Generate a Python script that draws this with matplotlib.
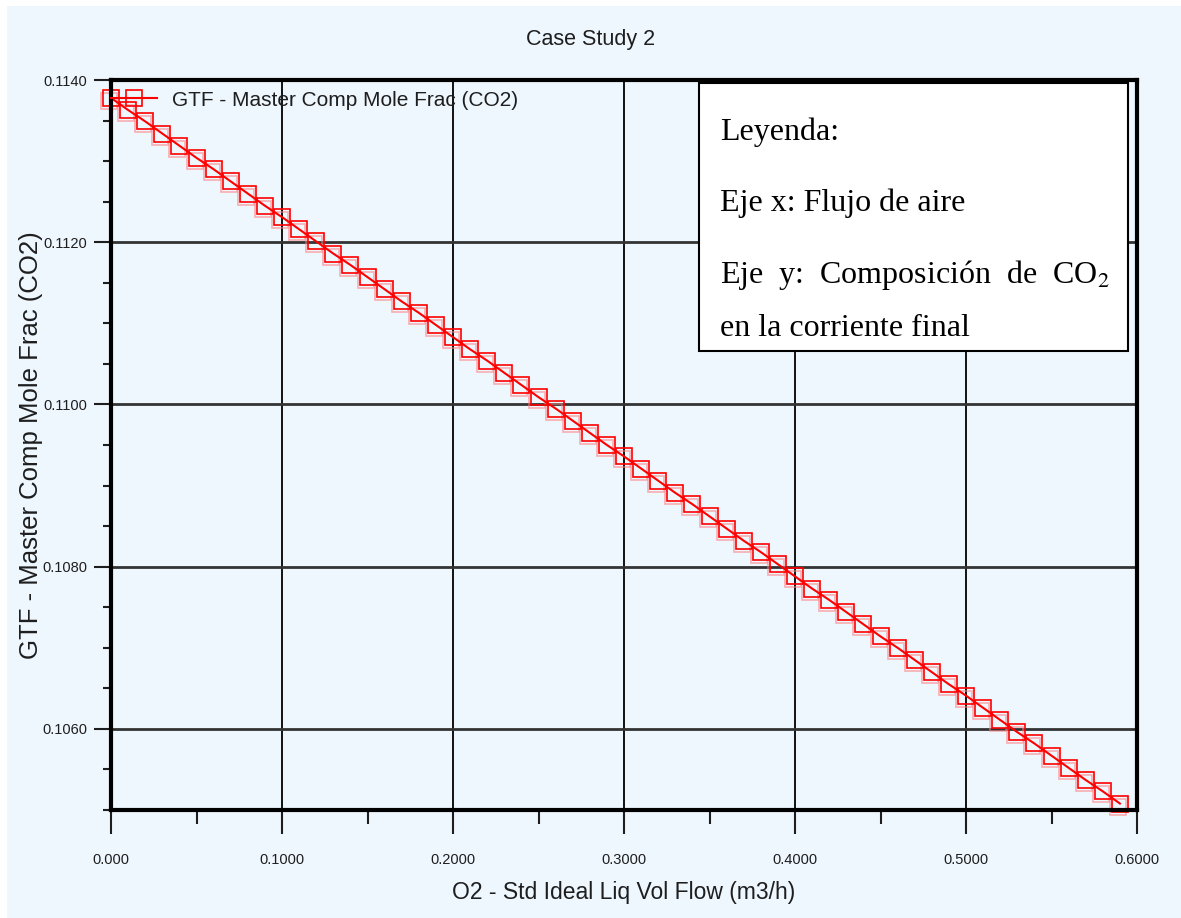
import matplotlib
matplotlib.use("Agg")
import matplotlib.pyplot as plt
import matplotlib.transforms as mtransforms
from matplotlib.patches import Rectangle
from matplotlib.ticker import MultipleLocator, FixedLocator

# O2 flow (m3/h) vs CO2 mole fraction in the final stream
flow = [0.00, 0.01, 0.02, 0.03, 0.04, 0.05, 0.06, 0.07, 0.08, 0.09,
        0.10, 0.11, 0.12, 0.13, 0.14, 0.15, 0.16, 0.17, 0.18, 0.19,
        0.20, 0.21, 0.22, 0.23, 0.24, 0.25, 0.26, 0.27, 0.28, 0.29,
        0.30, 0.31, 0.32, 0.33, 0.34, 0.35, 0.36, 0.37, 0.38, 0.39,
        0.40, 0.41, 0.42, 0.43, 0.44, 0.45, 0.46, 0.47, 0.48, 0.49,
        0.50, 0.51, 0.52, 0.53, 0.54, 0.55, 0.56, 0.57, 0.58, 0.59]
co2 = [0.11378, 0.11363, 0.11349, 0.11334, 0.11319, 0.11304, 0.11290, 0.11275, 0.11260, 0.11245,
       0.11231, 0.11216, 0.11201, 0.11186, 0.11172, 0.11157, 0.11142, 0.11127, 0.11113, 0.11098,
       0.11083, 0.11068, 0.11054, 0.11039, 0.11024, 0.11009, 0.10995, 0.10980, 0.10965, 0.10950,
       0.10936, 0.10921, 0.10906, 0.10891, 0.10877, 0.10862, 0.10847, 0.10832, 0.10818, 0.10803,
       0.10788, 0.10773, 0.10759, 0.10744, 0.10729, 0.10714, 0.10700, 0.10685, 0.10670, 0.10655,
       0.10641, 0.10626, 0.10611, 0.10596, 0.10582, 0.10567, 0.10552, 0.10537, 0.10523, 0.10508]

xticks = [0.0, 0.1, 0.2, 0.3, 0.4, 0.5, 0.6]
xlabels = ["0.000", "0.1000", "0.2000", "0.3000", "0.4000", "0.5000", "0.6000"]
yticks = [0.1060, 0.1080, 0.1100, 0.1120, 0.1140]
ylabels = ["0.1060", "0.1080", "0.1100", "0.1120", "0.1140"]

note_lines = ["Leyenda:", "Eje x: Flujo de aire",
              "Eje  y:  Composición  de  CO$_2$", "en la corriente final"]

sans = "Liberation Sans"
plt.rcParams["mathtext.fontset"] = "stix"

W, H = 1181, 918
bg = "#eef6fe"
ink = "#1e1e1e"


def fx(px):
    return px / W


def fy(py):
    return 1 - py / H


fig = plt.figure(figsize=(W / 100, H / 100), dpi=100, facecolor="white")
fig.patches.append(Rectangle((fx(7), 0), 1, fy(6), transform=fig.transFigure,
                             facecolor=bg, edgecolor="none", zorder=-10))

ax = fig.add_axes([fx(111), fy(810), fx(1137) - fx(111), fy(80) - fy(810)])
ax.set_facecolor(bg)

# faint shifted copy of the markers (the doubled look of the original)
shift = ax.transData + mtransforms.ScaledTranslation(-2 / 100, -3 / 100, fig.dpi_scale_trans)
ax.plot(flow, co2, ls="none", marker="s", ms=12, mfc="none", mec="#ff8080",
        mew=1.2, alpha=0.6, transform=shift, clip_on=False)
ax.plot(flow, co2, color="red", lw=1.5, marker="s", ms=12, mfc="none",
        mec="red", mew=1.2, label="GTF - Master Comp Mole Frac (CO2)", clip_on=False)

ax.set_xlim(0, 0.6)
ax.set_ylim(0.1050, 0.1140)
ax.xaxis.set_major_locator(FixedLocator(xticks))
ax.set_xticklabels(xlabels)
ax.xaxis.set_minor_locator(MultipleLocator(0.05))
ax.yaxis.set_major_locator(FixedLocator(yticks))
ax.set_yticklabels(ylabels)
ax.yaxis.set_minor_locator(MultipleLocator(0.0005))

ax.tick_params(which="major", axis="x", length=17, width=1.5, color=ink, pad=14)
ax.tick_params(which="minor", axis="x", length=10, width=1.5, color=ink)
ax.tick_params(which="major", axis="y", length=12, width=1.5, color=ink, pad=5)
ax.tick_params(which="minor", axis="y", length=6, width=1.5, color=ink)
for lab in ax.get_xticklabels() + ax.get_yticklabels():
    lab.set_fontfamily(sans)
    lab.set_fontsize(10.5)
    lab.set_color(ink)

ax.grid(axis="x", which="major", color="black", lw=1.3)
ax.grid(axis="y", which="major", color="#333333", lw=2)
for s in ax.spines.values():
    s.set_linewidth(3)
    s.set_color("black")

ax.set_xlabel("O2 - Std Ideal Liq Vol Flow (m3/h)", fontfamily=sans,
              fontsize=16.5, color=ink)
ax.xaxis.set_label_coords(0.5, -(893 - 810) / 730)
ax.set_ylabel("GTF - Master Comp Mole Frac (CO2)", fontfamily=sans,
              fontsize=18.5, color=ink)
ax.yaxis.set_label_coords(-(111 - 31) / 1026, 0.5)
ax.xaxis.label.set_va("center")
ax.yaxis.label.set_va("center")
fig.text(0.5, fy(40), "Case Study 2", ha="center", va="center",
         fontfamily=sans, fontsize=15.5, color=ink)

leg = ax.legend(loc="center left", bbox_to_anchor=(0.0, 1 - 20 / 730), frameon=False,
                borderpad=0, borderaxespad=0, handlelength=2.2, handletextpad=0.75,
                prop={"family": sans, "size": 15})
for t in leg.get_texts():
    t.set_color(ink)

# annotation box
fig.patches.append(Rectangle((fx(699), fy(351)), fx(1128) - fx(699), fy(83) - fy(351),
                             transform=fig.transFigure, facecolor="white",
                             edgecolor="black", lw=1.5, zorder=5))
for line, base in zip(note_lines, [140, 211, 283, 336]):
    fig.text(fx(720), fy(base), line, ha="left", va="baseline",
             fontfamily="Liberation Serif", fontsize=23, color="black", zorder=6)

fig.savefig("out.png", dpi=100, facecolor="white")
